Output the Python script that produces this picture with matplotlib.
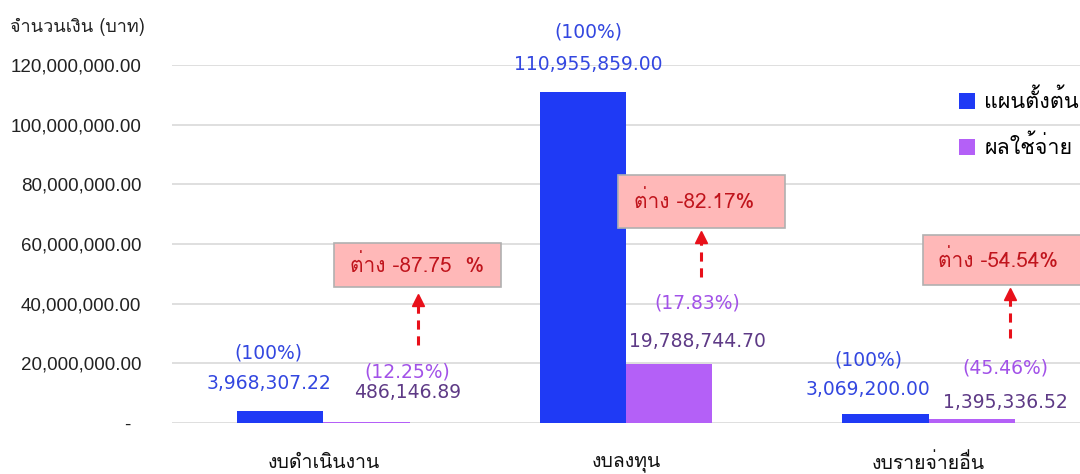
import matplotlib
matplotlib.use("Agg")
import matplotlib.pyplot as plt
from matplotlib import font_manager as fm
from matplotlib.ft2font import FT2Font
from matplotlib.patches import Rectangle
import numpy as np

# ---------------- data ----------------
categories = ["งบดำเนินงาน", "งบลงทุน", "งบรายจ่ายอื่น"]
plan_values = [3968307.22, 110955859.00, 3069200.00]
spent_values = [486146.89, 19788744.70, 1395336.52]
plan_pct = ["(100%)", "(100%)", "(100%)"]
spent_pct = ["(12.25%)", "(17.83%)", "(45.46%)"]
diff_labels = ["ต่าง -87.75  %", "ต่าง -82.17%", "ต่าง -54.54%"]
series_names = ["แผนตั้งต้น", "ผลใช้จ่าย"]
y_title = "จำนวนเงิน (บาท)"
y_ticks = [0, 20e6, 40e6, 60e6, 80e6, 100e6, 120e6]

# ---------------- find a Thai-capable font (prefer Loma) ----------------
thai_prop = None
for f in sorted(fm.findSystemFonts()):
    try:
        ft = FT2Font(f)
        cm = ft.get_charmap()
        if 0x0E01 in cm and 0x0E48 in cm and 0x0E33 in cm and \
                ft.style_name in ("Regular", "Book", "Medium"):
            fm.fontManager.addfont(f)
            if thai_prop is None or ft.family_name == "Loma":
                thai_prop = ft.family_name
    except Exception:
        pass
THAI = [thai_prop, "DejaVu Sans"] if thai_prop else ["DejaVu Sans"]

# ---------------- colors ----------------
c_blue = "#1f3af5"
c_purple = "#b460f7"
c_blue_txt = "#3347e0"
c_purple_pct = "#a252e8"
c_purple_val = "#5e3a86"
c_box = "#ffb8b8"
c_box_txt = "#c0141c"
c_grid = "#d9d9d9"

fig = plt.figure(figsize=(10.8, 4.74), dpi=100)
ax = fig.add_axes([172 / 1080, 51 / 474, 908 / 1080, 358 / 474])

x = np.arange(len(categories))
w = 0.285
ax.bar(x - w / 2, plan_values, w, color=c_blue, label=series_names[0], zorder=3)
ax.bar(x + w / 2, spent_values, w, color=c_purple, label=series_names[1], zorder=3)

ax.set_xlim(-0.5, 2.5)
ax.set_ylim(0, 120e6)
ax.set_yticks(y_ticks)
ax.set_yticklabels(["-  " if v == 0 else f"{v:,.2f}" for v in y_ticks],
                   fontsize=13.5, family="Liberation Sans", color="#222222")
ax.set_xticks(x)
ax.set_xticklabels(categories, family=THAI, fontsize=14, color="#111111")
ax.tick_params(axis="y", length=0, pad=22)
ax.tick_params(axis="x", length=0, pad=22)
for s in ax.spines.values():
    s.set_visible(False)
ax.grid(axis="y", color=c_grid, linewidth=1.2, zorder=0)
ax.set_axisbelow(True)

# y-axis title
fig.text(10 / 1080, 1 - 27 / 474, y_title, family=THAI, fontsize=13,
         color="#222222", va="center", ha="left")

# ---------------- data labels (layout offsets) ----------------
plan_dx = [-0.18, -0.125, -0.20]
plan_pct_y = [23.5e6, 131e6, 21.1e6]
plan_val_y = [13.4e6, 120e6, 11.1e6]
spent_dx = [0.278, 0.235, 0.254]
spent_pct_y = [17.1e6, 40.2e6, 18.4e6]
spent_val_y = [10.1e6, 27.2e6, 7.0e6]

for i in range(len(categories)):
    ax.text(x[i] + plan_dx[i], plan_pct_y[i], plan_pct[i], ha="center", va="center",
            fontsize=13.5, color=c_blue_txt, clip_on=False, zorder=5)
    ax.text(x[i] + plan_dx[i], plan_val_y[i], f"{plan_values[i]:,.2f}", ha="center",
            va="center", fontsize=13.5, color=c_blue_txt, clip_on=False, zorder=5)
    ax.text(x[i] + spent_dx[i], spent_pct_y[i], spent_pct[i], ha="center", va="center",
            fontsize=13.5, color=c_purple_pct, clip_on=False, zorder=5)
    ax.text(x[i] + spent_dx[i], spent_val_y[i], f"{spent_values[i]:,.2f}", ha="center",
            va="center", fontsize=13.5, color=c_purple_val, clip_on=False, zorder=5)

# ---------------- difference boxes + arrows ----------------
box_x0 = [0.036, -0.026, -0.020]
box_w = 0.55
box_y0 = [45.6e6, 65.4e6, 46.3e6]
box_h = [14.7e6, 17.7e6, 16.7e6]
arr_dx = [0.314, 0.248, 0.268]
arr_y0 = [26.1e6, 48.9e6, 28.5e6]
arr_y1 = [42.6e6, 63.7e6, 44.6e6]

for i in range(len(categories)):
    r = Rectangle((x[i] + box_x0[i], box_y0[i]), box_w, box_h[i], facecolor=c_box,
                  edgecolor="#b0b0b0", linewidth=1.2, zorder=6, clip_on=False)
    ax.add_patch(r)
    ax.text(x[i] + box_x0[i] + 0.052, box_y0[i] + box_h[i] / 2, diff_labels[i],
            family=THAI, fontsize=15, color=c_box_txt, ha="left", va="center", zorder=7)
    ax.plot([x[i] + arr_dx[i]] * 2, [arr_y0[i], arr_y1[i] - 3.5e6], color="#e8101a",
            linewidth=2.2, linestyle=(0, (3, 2.2)), zorder=6, clip_on=False)
    ax.plot([x[i] + arr_dx[i]], [arr_y1[i] - 1.5e6], marker="^", markersize=8,
            color="#e8101a", zorder=6, clip_on=False)

# ---------------- legend ----------------
leg = ax.legend(loc="upper left", bbox_to_anchor=(0.845, 0.985), frameon=False,
                prop=fm.FontProperties(family=THAI, size=15.5), handlelength=0.75,
                handleheight=0.75, handletextpad=0.45, labelspacing=1.05)

fig.savefig("out.png", dpi=100)
